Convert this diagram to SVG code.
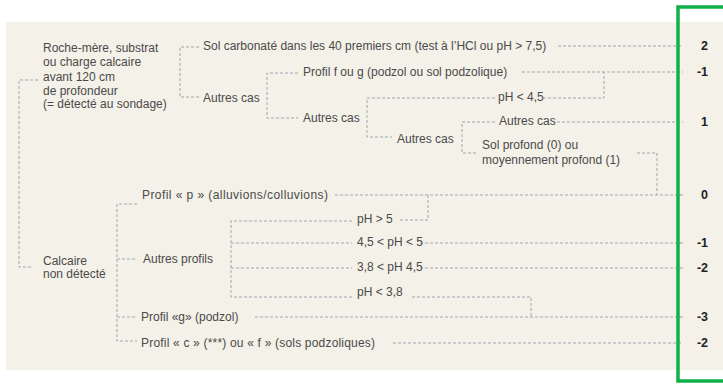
<svg xmlns="http://www.w3.org/2000/svg" width="723" height="384" viewBox="0 0 723 384">
<style>
.t{font-family:"Liberation Sans",Arial,sans-serif;font-size:12px;fill:#4a4a4a}
.n{font-family:"Liberation Sans",Arial,sans-serif;font-size:12.5px;font-weight:bold;fill:#222;text-anchor:end}
.c{fill:none;stroke:#9ba7ae;stroke-width:1;stroke-dasharray:3 2}
</style>
<rect x="0" y="0" width="723" height="384" fill="#ffffff"/>
<rect x="6" y="22" width="717" height="348" fill="#f4f1e8"/>
<g id="connectors">
<path class="c" d="M38 80H19V267H33"/>
<path class="c" d="M199 47H180V97H199"/>
<path class="c" d="M558 46H683"/>
<path class="c" d="M298 73H267V118H298"/>
<path class="c" d="M522 72H683"/>
<path class="c" d="M495 98H367V137H392"/>
<path class="c" d="M543 98H604V72"/>
<path class="c" d="M495 122H462V153H477"/>
<path class="c" d="M557 122H683"/>
<path class="c" d="M637 153H657V195"/>
<path class="c" d="M335 195H683"/>
<path class="c" d="M137 204H117V341H137"/>
<path class="c" d="M117 259H137"/>
<path class="c" d="M117 317H137"/>
<path class="c" d="M352 221H231V297H352"/>
<path class="c" d="M231 243H352"/>
<path class="c" d="M231 268H352"/>
<path class="c" d="M400 220H428V195"/>
<path class="c" d="M420 243H683"/>
<path class="c" d="M420 268H683"/>
<path class="c" d="M412 297H531V317"/>
<path class="c" d="M255 317H683"/>
<path class="c" d="M393 343H683"/>
</g>
<g id="n-roche"><text class="t" x="43" y="52">Roche-mère, substrat</text><text class="t" x="43" y="66">ou charge calcaire</text><text class="t" x="43" y="81">avant 120 cm</text><text class="t" x="43" y="95">de profondeur</text><text class="t" x="43" y="108">(= détecté au sondage)</text></g>
<g id="n-sol-carb"><text class="t" x="203" y="50">Sol carbonaté dans les 40 premiers cm (test à l’HCl ou pH &gt; 7,5)</text></g>
<g id="n-autres1"><text class="t" x="203" y="102">Autres cas</text></g>
<g id="n-profil-fg"><text class="t" x="303" y="76">Profil f ou g (podzol ou sol podzolique)</text></g>
<g id="n-autres2"><text class="t" x="303" y="122">Autres cas</text></g>
<g id="n-ph45"><text class="t" x="498" y="101">pH &lt; 4,5</text></g>
<g id="n-autres3"><text class="t" x="397" y="143">Autres cas</text></g>
<g id="n-autres4"><text class="t" x="499" y="125">Autres cas</text></g>
<g id="n-solprof"><text class="t" x="482" y="149">Sol profond (0) ou</text><text class="t" x="482" y="164">moyennement profond (1)</text></g>
<g id="n-calcaire"><text class="t" x="43" y="265">Calcaire</text><text class="t" x="43" y="278">non détecté</text></g>
<g id="n-profil-p"><text class="t" x="142" y="199" textLength="186" lengthAdjust="spacing">Profil « p » (alluvions/colluvions)</text></g>
<g id="n-autres-profils"><text class="t" x="143" y="263">Autres profils</text></g>
<g id="n-ph5"><text class="t" x="357" y="223">pH &gt; 5</text></g>
<g id="n-ph45-5"><text class="t" x="357" y="246">4,5 &lt; pH &lt; 5</text></g>
<g id="n-ph38-45"><text class="t" x="357" y="271">3,8 &lt; pH 4,5</text></g>
<g id="n-ph38"><text class="t" x="357" y="296">pH &lt; 3,8</text></g>
<g id="n-profil-g"><text class="t" x="141" y="321">Profil «g» (podzol)</text></g>
<g id="n-profil-cf"><text class="t" x="141" y="347" textLength="234" lengthAdjust="spacing">Profil « c » (***) ou « f » (sols podzoliques)</text></g>
<g id="scores">
<text class="n" x="708" y="50">2</text>
<text class="n" x="708" y="76">-1</text>
<text class="n" x="708" y="126">1</text>
<text class="n" x="708" y="199">0</text>
<text class="n" x="708" y="247">-1</text>
<text class="n" x="708" y="272">-2</text>
<text class="n" x="708" y="321">-3</text>
<text class="n" x="708" y="347">-2</text>
</g>
<rect x="678" y="7" width="60" height="374" fill="none" stroke="#10b04a" stroke-width="3.5"/>
</svg>
